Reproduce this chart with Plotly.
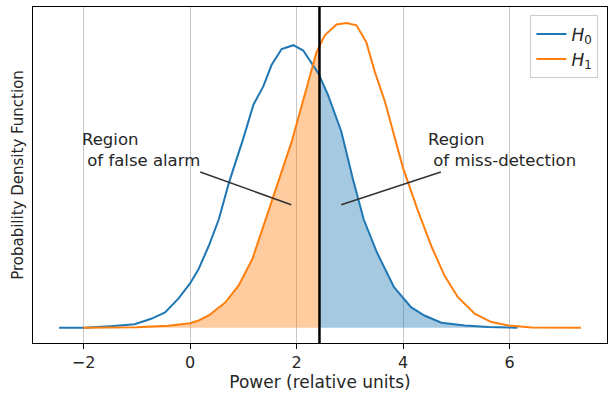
import numpy as np
import plotly.graph_objects as go

# H0 curve (blue)
h0_x = [-2.46, -2.0, -1.5, -1.04, -0.73, -0.47, -0.22, 0.0, 0.16, 0.35, 0.54, 0.73, 1.0, 1.19,
        1.375, 1.53, 1.72, 1.94, 2.125, 2.28, 2.41, 2.59, 2.84, 3.06, 3.26, 3.51, 3.83, 4.15,
        4.40, 4.72, 5.16, 5.6, 6.15]
h0_y = [0.0, 0.0, 0.002, 0.0045, 0.0117, 0.020, 0.038, 0.058, 0.077, 0.107, 0.142, 0.19, 0.248,
        0.292, 0.316, 0.344, 0.365, 0.370, 0.363, 0.346, 0.333, 0.305, 0.257, 0.194, 0.142,
        0.0985, 0.053, 0.027, 0.016, 0.0065, 0.003, 0.001, 0.0]

# H1 curve (orange)
h1_x = [-2.01, -1.0, -0.41, -0.09, 0.0, 0.16, 0.35, 0.66, 0.91, 1.17, 1.47, 1.66, 1.91, 2.16,
        2.375, 2.53, 2.75, 2.94, 3.125, 3.31, 3.47, 3.66, 3.84, 4.0, 4.27, 4.53, 4.78, 5.03,
        5.35, 5.66, 5.98, 6.42, 7.34]
h1_y = [0.0, 0.0005, 0.0026, 0.0048, 0.006, 0.0095, 0.016, 0.033, 0.055, 0.090, 0.151, 0.192,
        0.244, 0.305, 0.361, 0.383, 0.397, 0.399, 0.396, 0.374, 0.335, 0.296, 0.248, 0.209,
        0.155, 0.107, 0.068, 0.040, 0.018, 0.0074, 0.003, 0.0004, 0.0]

threshold = 2.43

x_ticks = [-2, 0, 2, 4, 6]
x_ticklabels = ["\u22122", "0", "2", "4", "6"]

BLUE = "#1f77b4"
ORANGE = "#ff7f0e"
FONT = "DejaVu Sans"
TEXT = "#262626"

fig = go.Figure()

# Shaded regions
fa_x = [x for x in h1_x if x < threshold] + [threshold]
fa_y = [y for x, y in zip(h1_x, h1_y) if x < threshold] + [float(np.interp(threshold, h1_x, h1_y))]
md_x = [threshold] + [x for x in h0_x if x > threshold]
md_y = [float(np.interp(threshold, h0_x, h0_y))] + [y for x, y in zip(h0_x, h0_y) if x > threshold]

fig.add_trace(go.Scatter(x=fa_x, y=fa_y, fill="tozeroy", mode="none",
                         fillcolor="rgba(255,127,14,0.4)", showlegend=False, hoverinfo="skip"))
fig.add_trace(go.Scatter(x=md_x, y=md_y, fill="tozeroy", mode="none",
                         fillcolor="rgba(31,119,180,0.4)", showlegend=False, hoverinfo="skip"))

fig.add_trace(go.Scatter(x=h0_x, y=h0_y, mode="lines", line=dict(color=BLUE, width=2),
                         name="<i>H</i><sub>0</sub>"))
fig.add_trace(go.Scatter(x=h1_x, y=h1_y, mode="lines", line=dict(color=ORANGE, width=2),
                         name="<i>H</i><sub>1</sub>"))

# Threshold line
fig.add_shape(type="line", x0=threshold, x1=threshold, y0=0, y1=1, xref="x", yref="paper",
              line=dict(color="black", width=2.5))

# Annotation lines
fig.add_shape(type="line", x0=0.19, y0=0.204, x1=1.90, y1=0.161, xref="x", yref="y",
              line=dict(color="#333333", width=1.5))
fig.add_shape(type="line", x0=4.71, y0=0.204, x1=2.84, y1=0.161, xref="x", yref="y",
              line=dict(color="#333333", width=1.5))

fig.add_annotation(x=-2.06, y=0.233, xref="x", yref="y", showarrow=False,
                   text="Region<br>\u00a0of false alarm", align="left",
                   xanchor="left", yanchor="middle",
                   font=dict(family=FONT, size=16.5, color=TEXT))
fig.add_annotation(x=4.44, y=0.233, xref="x", yref="y", showarrow=False,
                   text="Region<br>\u00a0of miss-detection", align="left",
                   xanchor="left", yanchor="middle",
                   font=dict(family=FONT, size=16.5, color=TEXT))

fig.update_layout(
    width=614, height=403,
    margin=dict(l=33, r=7, t=7, b=60),
    paper_bgcolor="white", plot_bgcolor="white",
    font=dict(family=FONT, size=15, color=TEXT),
    legend=dict(x=0.985, y=0.975, xanchor="right", yanchor="top",
                bordercolor="#cccccc", borderwidth=1, bgcolor="rgba(255,255,255,0.8)",
                font=dict(family=FONT, size=17)),
    xaxis=dict(range=[-2.95, 7.83], tickvals=x_ticks, ticktext=x_ticklabels,
               showgrid=True, gridcolor="#c8c8c8", gridwidth=1, zeroline=False,
               showline=True, linecolor="black", linewidth=1, mirror=True,
               ticks="outside", ticklen=5, tickcolor="black",
               title=dict(text="Power (relative units)", font=dict(size=17), standoff=4),
               tickfont=dict(size=16)),
    yaxis=dict(range=[-0.02, 0.42], showticklabels=False, showgrid=False, zeroline=False,
               showline=True, linecolor="black", linewidth=1, mirror=True, ticks="",
               title=dict(text="Probability Density Function", font=dict(size=15), standoff=4)),
)

fig.write_html("out.html")
